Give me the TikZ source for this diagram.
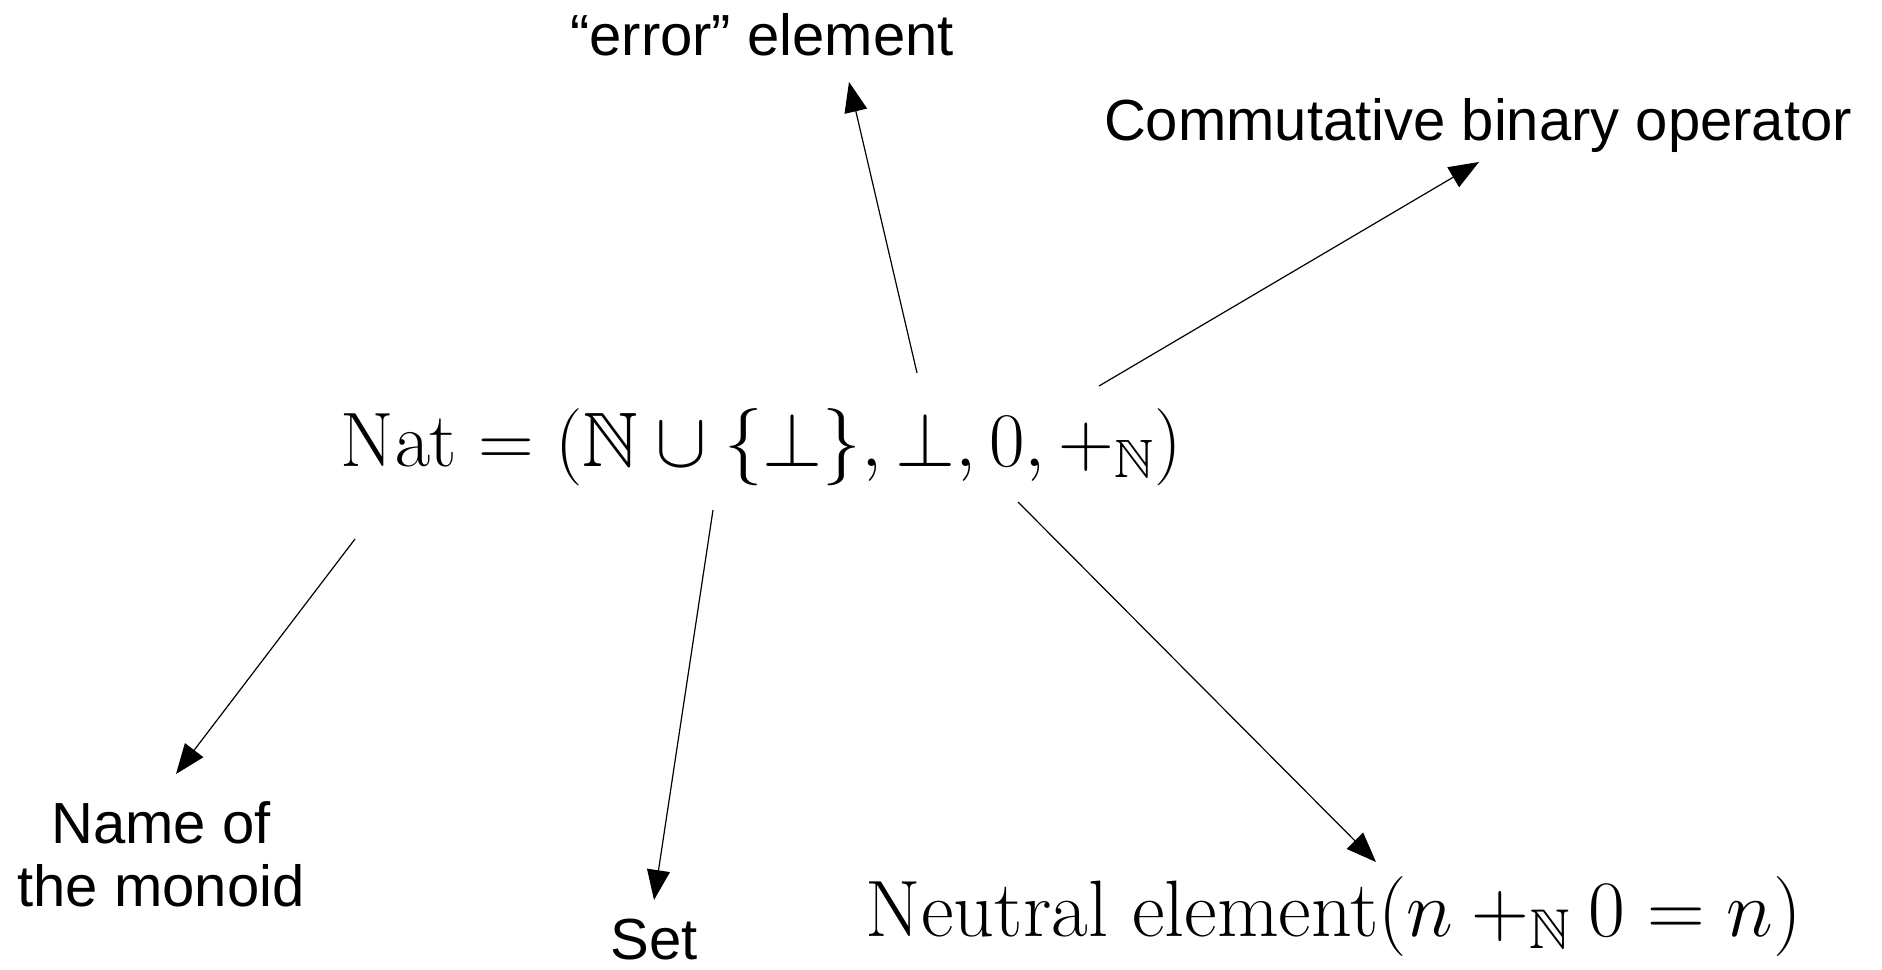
\RequirePackage{fix-cm}
\documentclass[tikz,border=0pt]{standalone}
\usepackage{amsmath,amssymb}
\usepackage[no-math]{fontspec}
\newfontfamily\arialfont{Liberation Sans}
\usetikzlibrary{arrows.meta}
\begin{document}
\begin{tikzpicture}[x=0.5pt,y=-0.5pt,
  lbl/.style={font=\arialfont\fontsize{29}{31.2}\selectfont, inner sep=0pt, anchor=base},
  mth/.style={font=\fontsize{38.6}{46}\selectfont, inner sep=0pt, anchor=base},
  conn/.style={line width=0.6pt, -{Triangle[length=15pt,width=11.5pt]}}]
\useasboundingbox (0,0) rectangle (1882,969);
\node[mth] (nat) at (761,466) {$\mathrm{Nat}=(\mathbb{N}\cup\{\bot\},\bot,0,+_{\mathbb{N}})$};
\node[lbl] (err) at (762,55) {“error” element};
\node[lbl] (comm) at (1478,140) {Commutative binary operator};
\node[lbl, align=center] (name) at (161,906) {Name of\\the monoid};
\node[lbl] (set) at (654,959) {Set};
\node[mth, font=\fontsize{40}{48}\selectfont] (neut) at (1334,936) {$\text{Neutral element}(n+_{\mathbb{N}}0=n)$};
\coordinate (s1) at (917,373); \coordinate (t1) at (849,82);
\coordinate (s2) at (1099,386); \coordinate (t2) at (1479,162);
\coordinate (s3) at (355,539); \coordinate (t3) at (176,774);
\coordinate (s4) at (713,510); \coordinate (t4) at (654,900);
\coordinate (s5) at (1018,502); \coordinate (t5) at (1376,862);
\draw[conn] (s1) -- (t1);
\draw[conn] (s2) -- (t2);
\draw[conn] (s3) -- (t3);
\draw[conn] (s4) -- (t4);
\draw[conn] (s5) -- (t5);
\end{tikzpicture}
\end{document}
